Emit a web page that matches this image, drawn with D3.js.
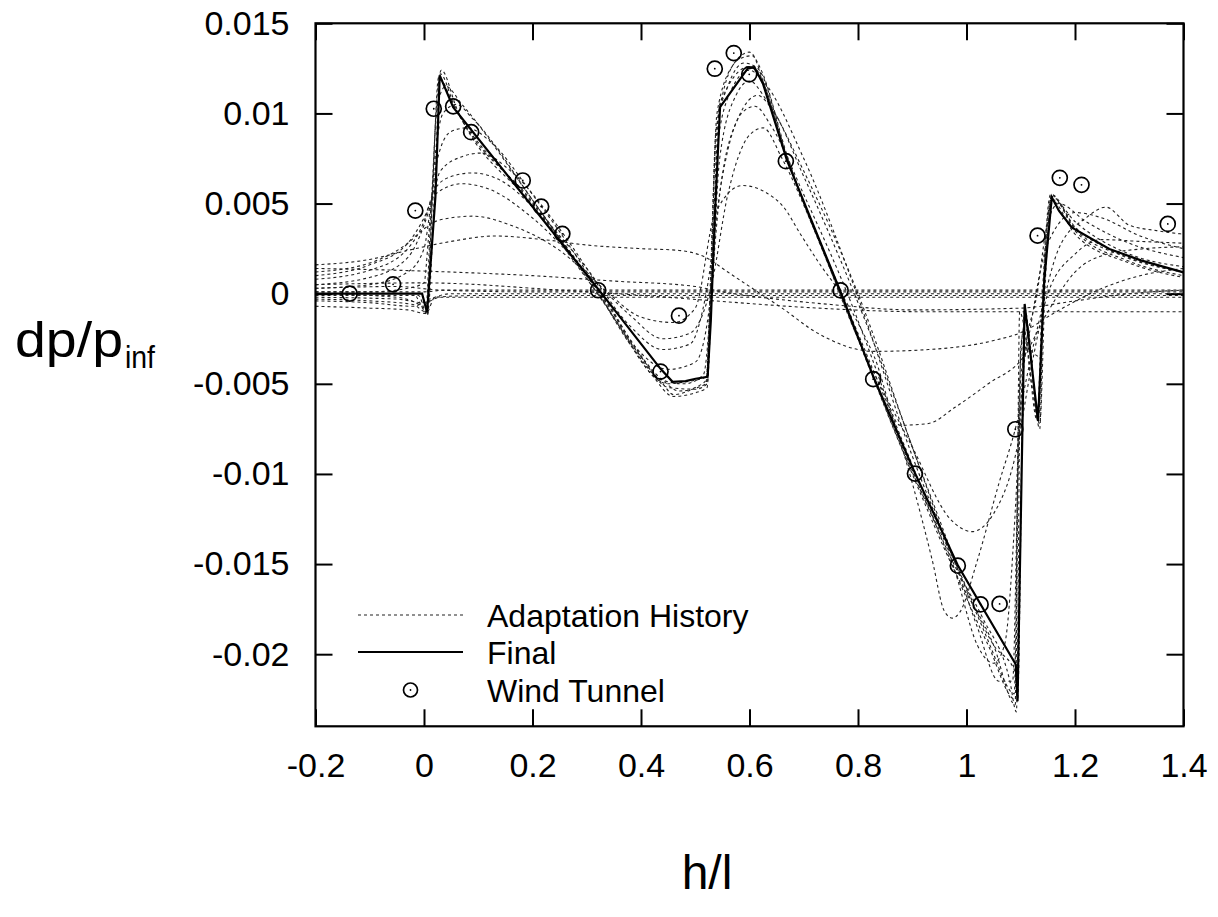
<!DOCTYPE html>
<html>
<head>
<meta charset="utf-8">
<script src="https://cdn.jsdelivr.net/npm/d3@7"></script>
<style>
  html, body { margin: 0; padding: 0; background: #fff; }
  svg text { font-family: "Liberation Sans", Arial, Helvetica, sans-serif; fill: #000; }
</style>
</head>
<body>
<svg id="chart" width="1218" height="917"></svg>
<script>
// ---------------- data ----------------
const xTicks = [-0.2, 0, 0.2, 0.4, 0.6, 0.8, 1, 1.2, 1.4];
const xTickLabels = ["-0.2", "0", "0.2", "0.4", "0.6", "0.8", "1", "1.2", "1.4"];
const yTicks = [0.015, 0.01, 0.005, 0, -0.005, -0.01, -0.015, -0.02];
const yTickLabels = ["0.015", "0.01", "0.005", "0", "-0.005", "-0.01", "-0.015", "-0.02"];

const legendLabels = ["Adaptation History", "Final", "Wind Tunnel"];

// Final solution
const finalX = [-0.2, -0.0035, 0.0057, 0.021, 0.029, 0.0537, 0.3223, 0.4361, 0.4582, 0.4822, 0.5006, 0.5228, 0.5287, 0.5363, 0.5457, 0.5964, 0.6089, 0.6248, 0.6691, 0.767, 0.8284, 0.9048, 0.9839, 1.0909, 1.0941, 1.1072, 1.1319, 1.1433, 1.1572, 1.1703, 1.1939, 1.2634, 1.3215, 1.4];
const finalY = [0, 0, -0.00104, 0.00535, 0.01211, 0.01035, 0.00021, -0.00417, -0.00489, -0.00485, -0.00472, -0.00461, -0.0015, 0.00443, 0.01035, 0.01248, 0.01257, 0.01165, 0.00739, 0.00017, -0.00461, -0.00994, -0.01507, -0.02057, -0.02261, -0.00057, -0.00706, 0.00072, 0.00535, 0.0046, 0.00368, 0.00248, 0.00185, 0.00118];

// Wind tunnel measurements
const windX = [-0.137, -0.057, -0.016, 0.018, 0.0537, 0.0869, 0.182, 0.216, 0.255, 0.321, 0.436, 0.470, 0.536, 0.571, 0.5995, 0.667, 0.768, 0.828, 0.905, 0.984, 1.026, 1.061, 1.090, 1.131, 1.172, 1.212, 1.371];
const windY = [0.0, 0.00052, 0.00461, 0.01026, 0.01039, 0.00896, 0.00628, 0.00483, 0.00332, 0.00019, -0.00432, -0.00122, 0.01248, 0.01335, 0.01217, 0.00735, 0.00018, -0.00474, -0.00998, -0.01509, -0.01724, -0.01721, -0.00752, 0.00322, 0.00643, 0.00604, 0.00387];

// Adaptation history (intermediate solutions), [x, dp/p]
const hist01 = [[-0.2,-0.0004],[-0.1,-0.0005],[-0.02,-0.0007],[0.01,-0.0003],[0.05,0.0],[0.5,0.0],[1.0,0.0],[1.4,0.0]];
const hist02 = [[-0.2,-0.0007],[-0.1,-0.0008],[-0.03,-0.0009],[0.004,-0.0011],[0.02,-0.0002],[0.1,-0.0001],[0.8,-0.0001],[1.4,-0.0001]];
const hist03 = [[-0.2,0.0003],[-0.05,0.0004],[0.03,0.0002],[0.2,0.0001],[1.4,0.0001]];
const hist03b = [[-0.2,-0.0002],[-0.05,-0.0003],[0.0,-0.0005],[0.03,-0.0002],[0.3,-0.0002],[1.4,-0.0002]];
const hist03c = [[-0.2,0.0001],[0.0,0.0001],[0.04,0.0002],[0.6,0.0002],[1.4,0.0002]];
const hist04 = [[-0.2,0.0005],[0.0,0.0006],[0.25,0.0002],[0.45,-0.0002],[0.536,-0.0004],[0.726,-0.0008],[0.916,-0.001],[1.15,-0.001],[1.4,-0.001]];
const hist05 = [[-0.2,0.0014],[-0.05,0.0013],[0.05,0.0012],[0.2,0.001],[0.35,0.0007],[0.5,0.0004],[0.55,0.0001],[0.65,-0.0003],[0.75,-0.0006],[0.9,-0.0009],[1.1,-0.0008],[1.2,-0.0004],[1.3,0.0],[1.4,0.0002]];
const hist06 = [[-0.2,0.0016],[-0.1,0.0019],[-0.03,0.0024],[0.05,0.0029],[0.13,0.0032],[0.22,0.003],[0.3,0.0027],[0.4,0.0025],[0.47,0.0024],[0.52,0.002],[0.56,0.0012],[0.6,0.0004],[0.66,-0.0008],[0.726,-0.0022],[0.83,-0.0032],[0.93,-0.0031],[1.05,-0.0026],[1.105,-0.0021],[1.16,-0.0011],[1.25,0.0003],[1.32,0.001],[1.4,0.0014]];
const hist07 = [[-0.2,0.0012],[-0.1,0.0017],[-0.03,0.0028],[0.0,0.0036],[0.03,0.0041],[0.09,0.0043],[0.16,0.0038],[0.25,0.0024],[0.33,0.0003],[0.4,-0.0013],[0.46,-0.0016],[0.5,-0.0008],[0.536,0.0044],[0.587,0.006],[0.631,0.0056],[0.663,0.0048],[0.694,0.0033],[0.726,0.0018],[0.777,-0.0004],[0.83,-0.0035],[0.878,-0.0073],[0.93,-0.0072],[0.979,-0.0063],[1.04,-0.005],[1.105,-0.0035],[1.15,-0.001],[1.2,0.0012],[1.26,0.0022],[1.33,0.0025],[1.4,0.0026]];
const hist08 = [[-0.2,0.001],[-0.1,0.0016],[-0.03,0.0028],[0.0,0.0042],[0.02,0.0055],[0.07,0.0061],[0.12,0.0058],[0.2,0.0042],[0.3,0.0012],[0.38,-0.0012],[0.44,-0.0025],[0.49,-0.0022],[0.53,0.0005],[0.56,0.0055],[0.6,0.0088],[0.625,0.0092],[0.66,0.0075],[0.72,0.0035],[0.8,-0.0025],[0.9,-0.0085],[0.97,-0.0125],[1.01,-0.0132],[1.05,-0.0122],[1.09,-0.009],[1.12,-0.004],[1.15,0.0],[1.2,0.0022],[1.25,0.003],[1.32,0.0029],[1.4,0.0028]];
const hist09 = [[-0.2,0.0008],[-0.1,0.0013],[-0.03,0.0025],[0.0,0.004],[0.02,0.0058],[0.05,0.0065],[0.09,0.0067],[0.14,0.0063],[0.22,0.0042],[0.3,0.0014],[0.38,-0.0018],[0.44,-0.0031],[0.49,-0.0028],[0.52,0.0],[0.55,0.0065],[0.585,0.01],[0.61,0.0104],[0.64,0.0093],[0.7,0.0055],[0.8,-0.0015],[0.9,-0.0105],[0.937,-0.0148],[0.959,-0.0176],[0.974,-0.018],[0.987,-0.0177],[1.02,-0.0148],[1.06,-0.0105],[1.09,-0.0075],[1.13,-0.002],[1.17,0.0025],[1.22,0.0042],[1.257,0.0048],[1.3,0.0038],[1.35,0.0035],[1.4,0.0033]];
const hist10 = [[-0.2,0.0005],[-0.1,0.0009],[-0.03,0.002],[0.0,0.0038],[0.015,0.0052],[0.03,0.0068],[0.07,0.0076],[0.104,0.0078],[0.16,0.0068],[0.24,0.004],[0.32,0.0005],[0.4,-0.0033],[0.45,-0.0042],[0.5,-0.0038],[0.525,-0.001],[0.545,0.0055],[0.58,0.0098],[0.615,0.011],[0.64,0.0103],[0.7,0.0065],[0.8,-0.0005],[0.9,-0.0085],[0.98,-0.0155],[1.02,-0.0195],[1.05,-0.0205],[1.07,-0.0195],[1.09,-0.012],[1.1,-0.006],[1.12,-0.0015],[1.15,0.0028],[1.2,0.0045],[1.25,0.0042],[1.32,0.0032],[1.4,0.0025]];
const hist11 = [[-0.2,0.0003],[-0.1,0.0005],[-0.03,0.0012],[0.0,0.0025],[0.012,0.0048],[0.025,0.0075],[0.05,0.009],[0.08,0.0092],[0.12,0.0085],[0.2,0.0055],[0.3,0.0012],[0.38,-0.0028],[0.44,-0.0048],[0.48,-0.005],[0.515,-0.0045],[0.53,0.0],[0.545,0.0075],[0.575,0.011],[0.6,0.0118],[0.63,0.0108],[0.7,0.0068],[0.8,0.0],[0.9,-0.0085],[0.98,-0.015],[1.02,-0.0185],[1.06,-0.0215],[1.085,-0.0215],[1.095,-0.01],[1.105,-0.004],[1.13,0.0],[1.15,0.004],[1.17,0.005],[1.22,0.004],[1.3,0.0028],[1.4,0.002]];
const hist12 = [[-0.2,0.0001],[-0.1,0.0001],[-0.03,0.0003],[0.0,0.0006],[0.008,0.003],[0.02,0.0075],[0.035,0.01],[0.06,0.0105],[0.09,0.0097],[0.2,0.0052],[0.32,0.0],[0.4,-0.0035],[0.45,-0.0052],[0.5,-0.0053],[0.522,-0.005],[0.53,0.0],[0.54,0.008],[0.565,0.0112],[0.6,0.0124],[0.625,0.0118],[0.7,0.0075],[0.8,-0.0002],[0.9,-0.009],[0.98,-0.015],[1.05,-0.02],[1.07,-0.0215],[1.088,-0.0222],[1.097,-0.006],[1.11,-0.003],[1.135,-0.0035],[1.145,0.0015],[1.16,0.0052],[1.2,0.004],[1.3,0.0022],[1.4,0.0015]];
const hist13 = [[-0.2,-0.0003],[-0.1,-0.0004],[-0.02,-0.0006],[0.003,-0.001],[0.012,0.004],[0.025,0.0105],[0.04,0.0115],[0.07,0.0105],[0.2,0.0052],[0.32,0.0001],[0.42,-0.0045],[0.46,-0.0057],[0.5,-0.0055],[0.522,-0.0052],[0.528,0.0],[0.538,0.009],[0.56,0.0115],[0.59,0.0128],[0.615,0.0125],[0.67,0.0075],[0.77,0.0],[0.9,-0.0095],[0.98,-0.0155],[1.04,-0.0195],[1.09,-0.0225],[1.095,-0.008],[1.105,-0.002],[1.12,-0.005],[1.135,-0.0072],[1.145,0.0005],[1.157,0.0055],[1.2,0.0036],[1.3,0.002],[1.4,0.0012]];
const hist14 = [[-0.2,0.0],[-0.05,-0.0002],[0.0,-0.0008],[0.006,-0.0012],[0.015,0.005],[0.027,0.012],[0.055,0.0104],[0.2,0.005],[0.322,0.0001],[0.44,-0.0048],[0.47,-0.0054],[0.52,-0.005],[0.527,0.0],[0.537,0.008],[0.55,0.011],[0.58,0.013],[0.605,0.0132],[0.625,0.0118],[0.67,0.0075],[0.767,0.0],[0.9,-0.01],[0.98,-0.0155],[1.05,-0.0195],[1.09,-0.0228],[1.098,-0.001],[1.11,-0.0025],[1.13,-0.007],[1.14,0.0],[1.155,0.0055],[1.2,0.0035],[1.3,0.0018],[1.4,0.001]];
const hist15 = [[-0.2,0.0],[-0.02,0.0],[0.004,-0.001],[0.012,0.003],[0.022,0.01],[0.032,0.0124],[0.06,0.0103],[0.2,0.0049],[0.32,0.0],[0.44,-0.005],[0.46,-0.0056],[0.5,-0.0052],[0.52,-0.0048],[0.528,0.0],[0.54,0.01],[0.57,0.0127],[0.6,0.0134],[0.62,0.0125],[0.67,0.0076],[0.768,0.0],[0.9,-0.0098],[0.98,-0.0152],[1.03,-0.018],[1.08,-0.0215],[1.092,-0.0232],[1.1,-0.003],[1.11,-0.0015],[1.135,-0.0075],[1.142,0.0005],[1.156,0.0052],[1.2,0.0033],[1.3,0.0017],[1.4,0.0009]];
const hist16 = [[-0.2,-0.0001],[-0.01,-0.0001],[0.006,-0.0012],[0.02,0.006],[0.03,0.0122],[0.055,0.0105],[0.2,0.0051],[0.322,0.0002],[0.45,-0.005],[0.48,-0.0049],[0.522,-0.0046],[0.53,0.0],[0.545,0.0105],[0.6,0.0126],[0.61,0.0125],[0.67,0.0074],[0.767,0.0001],[0.9,-0.0099],[0.985,-0.0153],[1.05,-0.0195],[1.09,-0.021],[1.094,-0.0226],[1.107,-0.0008],[1.132,-0.007],[1.143,0.0008],[1.157,0.0054],[1.2,0.0037],[1.26,0.0025],[1.4,0.0012]];

const historySeries = [hist01, hist02, hist03, hist03b, hist03c, hist04, hist05, hist06, hist07, hist08,
                       hist09, hist10, hist11, hist12, hist13, hist14, hist15, hist16];

// ---------------- layout ----------------
const svg = d3.select("#chart");
const plot = { left: 315.5, right: 1183.5, top: 23.3, bottom: 726.3 };

const x = d3.scaleLinear().domain([-0.2, 1.4]).range([plot.left, plot.right]);
const y = d3.scaleLinear().domain([-0.024, 0.015]).range([plot.bottom, plot.top]);

svg.append("defs").append("clipPath").attr("id", "clip")
  .append("rect")
  .attr("x", plot.left).attr("y", plot.top)
  .attr("width", plot.right - plot.left).attr("height", plot.bottom - plot.top);

const dataG = svg.append("g").attr("clip-path", "url(#clip)");

// history curves
const histLine = d3.line()
  .x(d => x(d[0])).y(d => y(d[1]))
  .curve(d3.curveMonotoneX);

dataG.selectAll("path.hist")
  .data(historySeries)
  .join("path")
  .attr("class", "hist")
  .attr("d", histLine)
  .attr("fill", "none")
  .attr("stroke", "#222")
  .attr("stroke-width", 1.1)
  .attr("stroke-dasharray", "3,3");

// final line
const finalData = finalX.map((v, i) => [v, finalY[i]]);
dataG.append("path")
  .datum(finalData)
  .attr("d", d3.line().x(d => x(d[0])).y(d => y(d[1])))
  .attr("fill", "none")
  .attr("stroke", "#000")
  .attr("stroke-width", 2.2)
  .attr("stroke-linejoin", "miter");

// wind tunnel points
const windData = windX.map((v, i) => [v, windY[i]]);
const wg = dataG.selectAll("g.wt").data(windData).join("g")
  .attr("class", "wt")
  .attr("transform", d => `translate(${x(d[0])},${y(d[1])})`);
wg.append("circle").attr("r", 7.5).attr("fill", "none").attr("stroke", "#000").attr("stroke-width", 1.7);
wg.append("circle").attr("r", 0.9).attr("fill", "#000");

// ---------------- axes ----------------
const tickLen = 17;
const axisFont = 34;

const gx = svg.append("g").attr("transform", `translate(0,${plot.bottom})`)
  .call(d3.axisBottom(x).tickValues(xTicks).tickSizeInner(-tickLen).tickSizeOuter(0)
        .tickPadding(27).tickFormat((d, i) => xTickLabels[i]));
const gxTop = svg.append("g").attr("transform", `translate(0,${plot.top})`)
  .call(d3.axisTop(x).tickValues(xTicks).tickSizeInner(-tickLen).tickSizeOuter(0).tickFormat(""));
const gy = svg.append("g").attr("transform", `translate(${plot.left},0)`)
  .call(d3.axisLeft(y).tickValues(yTicks).tickSizeInner(-tickLen).tickSizeOuter(0)
        .tickPadding(26).tickFormat((d, i) => yTickLabels[i]));
const gyRight = svg.append("g").attr("transform", `translate(${plot.right},0)`)
  .call(d3.axisRight(y).tickValues(yTicks).tickSizeInner(-tickLen).tickSizeOuter(0).tickFormat(""));

[gx, gxTop, gy, gyRight].forEach(g => {
  g.select(".domain").remove();
  g.selectAll(".tick line").attr("stroke", "#000").attr("stroke-width", 2);
  g.selectAll(".tick text")
    .attr("font-family", "'Liberation Sans', Arial, sans-serif")
    .attr("font-size", axisFont).attr("fill", "#000");
});

// frame
svg.append("rect")
  .attr("x", plot.left).attr("y", plot.top)
  .attr("width", plot.right - plot.left).attr("height", plot.bottom - plot.top)
  .attr("fill", "none").attr("stroke", "#000").attr("stroke-width", 2.2);

// ---------------- axis titles ----------------
const yTitle = svg.append("text")
  .attr("x", 15).attr("y", 357)
  .attr("font-size", 50);
yTitle.append("tspan").text("dp/p").attr("textLength", 108).attr("lengthAdjust", "spacingAndGlyphs");
yTitle.append("tspan").attr("x", 125).attr("dy", 11).attr("font-size", 32)
  .attr("textLength", 30).attr("lengthAdjust", "spacingAndGlyphs").text("inf");

svg.append("text")
  .attr("x", 707).attr("y", 889)
  .attr("text-anchor", "middle")
  .attr("font-size", 48)
  .text("h/l");

// ---------------- legend ----------------
const leg = svg.append("g");
const legRows = [615, 652, 690];
const legX0 = 358, legX1 = 463, legTextX = 487;

leg.append("line").attr("x1", legX0).attr("x2", legX1).attr("y1", legRows[0]).attr("y2", legRows[0])
  .attr("stroke", "#222").attr("stroke-width", 1.1).attr("stroke-dasharray", "3,3");
leg.append("line").attr("x1", legX0).attr("x2", legX1).attr("y1", legRows[1]).attr("y2", legRows[1])
  .attr("stroke", "#000").attr("stroke-width", 2.2);
leg.append("circle").attr("cx", (legX0 + legX1) / 2).attr("cy", legRows[2]).attr("r", 7)
  .attr("fill", "none").attr("stroke", "#000").attr("stroke-width", 1.7);
leg.append("circle").attr("cx", (legX0 + legX1) / 2).attr("cy", legRows[2]).attr("r", 0.9).attr("fill", "#000");

leg.selectAll("text.lg").data(legendLabels).join("text")
  .attr("class", "lg")
  .attr("x", legTextX)
  .attr("y", (d, i) => legRows[i])
  .attr("dy", "0.36em")
  .attr("font-size", 32)
  .text(d => d);
</script>
</body>
</html>
